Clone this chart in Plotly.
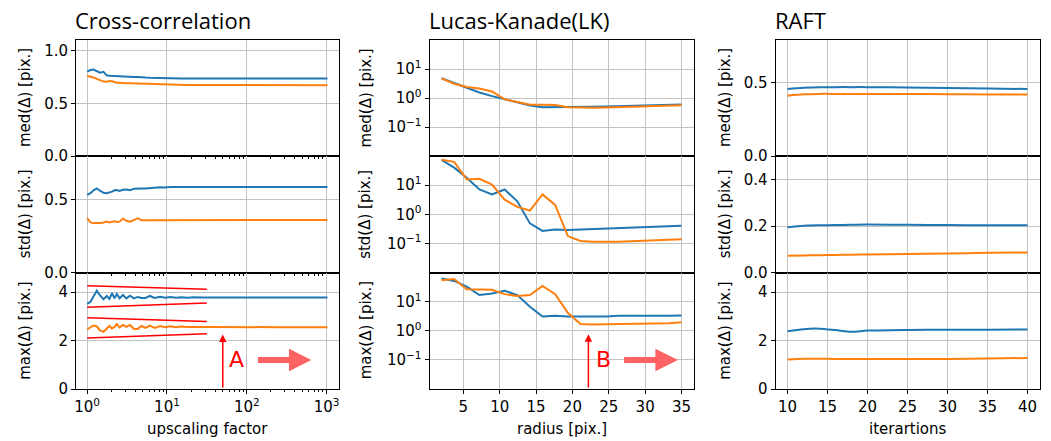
import math
import plotly.graph_objects as go
from plotly.subplots import make_subplots

BLUE = "#1f77b4"
ORANGE = "#ff7f0e"
RED = "#ff0000"
LIGHT_RED = "#ff6262"

# ---------------- Cross-correlation: error statistics vs upscaling factor
UPSCALE = [1.0, 1.1, 1.2, 1.32, 1.45, 1.6, 1.76, 1.9, 2.05, 2.2, 2.35, 2.55,
           2.8, 3.1, 3.45, 3.85, 4.3, 4.8, 5.4, 6.1, 7.0, 8.2, 9.5, 11, 13,
           15, 18, 22, 28, 40, 64, 128, 256, 512, 1024]
CC_MED_BLUE = [0.800, 0.815, 0.820, 0.805, 0.790, 0.798, 0.765, 0.762, 0.760,
               0.758, 0.760, 0.755, 0.752, 0.750, 0.753, 0.748, 0.750, 0.745,
               0.744, 0.742, 0.740, 0.738, 0.737, 0.736, 0.736, 0.735, 0.735,
               0.735, 0.735, 0.735, 0.734, 0.734, 0.734, 0.734, 0.734]
CC_MED_ORANGE = [0.759, 0.755, 0.745, 0.732, 0.720, 0.706, 0.704, 0.712, 0.708,
                 0.698, 0.695, 0.694, 0.690, 0.690, 0.689, 0.688, 0.686, 0.684,
                 0.680, 0.681, 0.678, 0.677, 0.676, 0.676, 0.675, 0.675, 0.674,
                 0.674, 0.674, 0.673, 0.673, 0.672, 0.672, 0.672, 0.672]
CC_STD_BLUE = [0.534, 0.545, 0.565, 0.578, 0.562, 0.548, 0.545, 0.550, 0.556,
               0.565, 0.566, 0.561, 0.568, 0.570, 0.566, 0.575, 0.574, 0.578,
               0.578, 0.582, 0.583, 0.586, 0.584, 0.588, 0.587, 0.588, 0.588,
               0.588, 0.588, 0.588, 0.587, 0.587, 0.587, 0.587, 0.587]
CC_STD_ORANGE = [0.375, 0.345, 0.340, 0.338, 0.340, 0.344, 0.350, 0.345, 0.348,
                 0.352, 0.348, 0.350, 0.370, 0.356, 0.350, 0.362, 0.372, 0.360,
                 0.360, 0.362, 0.361, 0.363, 0.361, 0.363, 0.362, 0.362, 0.362,
                 0.362, 0.362, 0.362, 0.362, 0.362, 0.362, 0.362, 0.362]
CC_MAX_BLUE = [3.51, 3.60, 3.82, 4.06, 3.86, 3.70, 3.84, 3.72, 3.96, 3.74, 3.92,
               3.74, 3.88, 3.74, 3.85, 3.74, 3.80, 3.76, 3.76, 3.84, 3.76, 3.81,
               3.77, 3.80, 3.77, 3.79, 3.77, 3.79, 3.78, 3.78, 3.78, 3.78, 3.78,
               3.78, 3.78]
CC_MAX_ORANGE = [2.46, 2.54, 2.62, 2.58, 2.42, 2.36, 2.50, 2.60, 2.50, 2.56,
                 2.68, 2.54, 2.64, 2.56, 2.64, 2.48, 2.48, 2.60, 2.52, 2.62,
                 2.52, 2.60, 2.55, 2.59, 2.55, 2.58, 2.56, 2.57, 2.56, 2.56,
                 2.55, 2.55, 2.55, 2.55, 2.55]

# convergence envelopes around the max curves
ENV_X = [1.0, 31.6]
ENV_BLUE_UPPER = [4.26, 4.12]
ENV_BLUE_LOWER = [3.37, 3.55]
ENV_ORANGE_UPPER = [2.94, 2.79]
ENV_ORANGE_LOWER = [2.10, 2.28]

# ---------------- Lucas-Kanade: error statistics vs window radius
RADIUS = [2.0, 3.74, 5.47, 7.21, 8.95, 10.68, 12.42, 14.16, 15.89, 17.63,
          19.37, 21.11, 22.84, 24.58, 26.32, 28.05, 29.79, 31.53, 33.26, 35.0]
LK_MED_BLUE = [4.78, 3.24, 2.24, 1.55, 1.16, 0.92, 0.73, 0.55, 0.48, 0.48,
               0.49, 0.49, 0.50, 0.51, 0.52, 0.53, 0.55, 0.56, 0.58, 0.60]
LK_MED_ORANGE = [4.78, 3.10, 2.40, 2.12, 1.68, 0.90, 0.73, 0.59, 0.58, 0.57,
                 0.48, 0.46, 0.46, 0.47, 0.48, 0.49, 0.50, 0.52, 0.54, 0.56]
LK_STD_BLUE = [74, 40, 18, 7.1, 4.8, 7.1, 2.8, 0.49, 0.27, 0.30, 0.29, 0.30,
               0.31, 0.32, 0.35, 0.35, 0.37, 0.38, 0.39, 0.41]
LK_STD_ORANGE = [74, 63, 15.8, 16.5, 10.5, 3.2, 1.8, 1.35, 4.8, 2.1, 0.18,
                 0.123, 0.114, 0.112, 0.114, 0.12, 0.125, 0.13, 0.135, 0.14]
LK_MAX_BLUE = [63, 52, 33, 17, 19.3, 24, 17, 6.7, 3.1, 3.3, 3.1, 3.1, 3.1,
               3.1, 3.3, 3.3, 3.2, 3.2, 3.3, 3.4]
LK_MAX_ORANGE = [55, 61, 27, 26, 26, 18.3, 15.8, 17, 35, 18.3, 4.2, 1.72,
                 1.66, 1.70, 1.72, 1.75, 1.78, 1.80, 1.82, 1.96]

# ---------------- RAFT: error statistics vs number of iterations
ITERS = [10, 12, 14, 16, 18, 20, 25, 30, 35, 40]
RAFT_MED_BLUE = [0.457, 0.464, 0.468, 0.469, 0.469, 0.469, 0.466, 0.463, 0.460, 0.456]
RAFT_MED_ORANGE = [0.411, 0.420, 0.423, 0.423, 0.423, 0.423, 0.422, 0.421, 0.419, 0.419]
RAFT_STD_BLUE = [0.195, 0.201, 0.203, 0.204, 0.205, 0.206, 0.205, 0.204, 0.203, 0.203]
RAFT_STD_ORANGE = [0.073, 0.074, 0.075, 0.076, 0.077, 0.078, 0.080, 0.082, 0.085, 0.087]
RAFT_MAX_BLUE = [2.38, 2.47, 2.49, 2.43, 2.36, 2.41, 2.44, 2.45, 2.45, 2.46]
RAFT_MAX_ORANGE = [1.22, 1.25, 1.25, 1.24, 1.24, 1.24, 1.24, 1.24, 1.26, 1.28]

# annotation anchors
ARROW_A_X, ARROW_A_TIP = 50, 2.25
LABEL_A_X, LABEL_A_Y = 74, 1.2
FAT_A_FROM, FAT_A_TO, FAT_A_Y = 132, 645, 1.2
ARROW_B_X, ARROW_B_TIP = 22.2, 0.77
LABEL_B_X, LABEL_B_Y = 24.3, 0.1
FAT_B_FROM, FAT_B_TO, FAT_B_Y = 26.9, 34.5, 0.1

TITLES = ["Cross-correlation", "Lucas-Kanade(LK)", "RAFT"]
ROW_LABELS = ["med(Δ) [pix.]", "std(Δ) [pix.]", "max(Δ) [pix.]"]
X_LABELS = ["upscaling factor", "radius [pix.]", "iterartions"]
LOG_TICKVALS = [0.1, 1, 10]
LOG_TICKTEXT = ["10<sup>−1</sup>", "10<sup>0</sup>", "10<sup>1</sup>"]
DECADE_TICKVALS = [1, 10, 100, 1000]
DECADE_TICKTEXT = ["10<sup>0</sup>", "10<sup>1</sup>", "10<sup>2</sup>", "10<sup>3</sup>"]

W, H = 1051, 441
COL_PX = [(76, 339), (429.5, 693.5), (775.5, 1039.5)]
ROW_PX = [(40, 156), (156, 272.7), (272.7, 389)]

TICK_FONT = dict(family="DejaVu Sans", size=15, color="black")

fig = make_subplots(rows=3, cols=3)

series = [
    (UPSCALE, [(CC_MED_BLUE, CC_MED_ORANGE), (CC_STD_BLUE, CC_STD_ORANGE),
               (CC_MAX_BLUE, CC_MAX_ORANGE)], "linear"),
    (RADIUS, [(LK_MED_BLUE, LK_MED_ORANGE), (LK_STD_BLUE, LK_STD_ORANGE),
              (LK_MAX_BLUE, LK_MAX_ORANGE)], "linear"),
    (ITERS, [(RAFT_MED_BLUE, RAFT_MED_ORANGE), (RAFT_STD_BLUE, RAFT_STD_ORANGE),
             (RAFT_MAX_BLUE, RAFT_MAX_ORANGE)], "spline"),
]

for c, (xs, rows, shape) in enumerate(series, start=1):
    for r, (yb, yo) in enumerate(rows, start=1):
        for ys, col in ((yb, BLUE), (yo, ORANGE)):
            fig.add_trace(go.Scatter(x=xs, y=ys, mode="lines",
                                     line=dict(color=col, width=2, shape=shape,
                                               smoothing=0.8 if shape == "spline" else None),
                                     showlegend=False, hoverinfo="skip"),
                          row=r, col=c)

for env in (ENV_BLUE_UPPER, ENV_BLUE_LOWER, ENV_ORANGE_UPPER, ENV_ORANGE_LOWER):
    fig.add_trace(go.Scatter(x=ENV_X, y=env, mode="lines",
                             line=dict(color=RED, width=1.5),
                             showlegend=False, hoverinfo="skip"),
                  row=3, col=1)

axis_common = dict(showline=True, linecolor="black", linewidth=1, mirror=True,
                   ticks="outside", ticklen=4, tickwidth=1, tickcolor="black",
                   showgrid=True, gridcolor="#c4c4c4", gridwidth=1,
                   zeroline=False, tickfont=TICK_FONT, automargin=False)

for c in range(1, 4):
    x0, x1 = COL_PX[c - 1]
    for r in range(1, 4):
        y0, y1 = ROW_PX[r - 1]
        xd = [x0 / W, x1 / W]
        yd = [1 - y1 / H, 1 - y0 / H]
        xa = dict(axis_common, domain=xd, showticklabels=(r == 3))
        if c == 1:
            xa.update(type="log", range=[-0.14, 3.155], tickvals=DECADE_TICKVALS,
                      ticktext=DECADE_TICKTEXT,
                      minor=dict(ticks="outside", ticklen=2, tickcolor="black",
                                 showgrid=False,
                                 tickvals=[m * 10 ** d for d in range(0, 4)
                                           for m in range(2, 10)]))
        elif c == 2:
            xa.update(range=[0.35, 36.65], tickvals=[5, 10, 15, 20, 25, 30, 35])
        else:
            xa.update(range=[8.5, 41.5], tickvals=[10, 15, 20, 25, 30, 35, 40])
        fig.update_xaxes(xa, row=r, col=c)

        ya = dict(axis_common, domain=yd)
        if c == 2:
            ya.update(type="log", range=[-2, 2], tickvals=LOG_TICKVALS,
                      ticktext=LOG_TICKTEXT)
        elif c == 1:
            ya.update([
                dict(range=[0, 1.1], tickvals=[0, 0.5, 1.0], tickformat=".1f"),
                dict(range=[0, 0.8], tickvals=[0, 0.5], tickformat=".1f"),
                dict(range=[0, 4.8], tickvals=[0, 2, 4], tickformat="d"),
            ][r - 1])
        else:
            ya.update([
                dict(range=[0, 0.79], tickvals=[0, 0.5], tickformat=".1f"),
                dict(range=[0, 0.5], tickvals=[0, 0.2, 0.4], tickformat=".1f"),
                dict(range=[0, 4.8], tickvals=[0, 2, 4], tickformat="d"),
            ][r - 1])
        fig.update_yaxes(ya, row=r, col=c)

annotations = []
TITLE_FONT = dict(family="Open Sans", size=22, color="black")
LABEL_FONT = dict(family="DejaVu Sans", size=15, color="black")
YLABEL_X = [25, 365.5, 725]
for c in range(3):
    x0, x1 = COL_PX[c]
    annotations.append(dict(text=TITLES[c], x=(x0 - 3) / W, y=1 - 20 / H,
                            xref="paper", yref="paper", xanchor="left",
                            yanchor="middle", showarrow=False, font=TITLE_FONT))
    annotations.append(dict(text=X_LABELS[c], x=(x0 + x1) / 2 / W, y=1 - 429 / H,
                            xref="paper", yref="paper", xanchor="center",
                            yanchor="middle", showarrow=False, font=LABEL_FONT))
    for r in range(3):
        y0, y1 = ROW_PX[r]
        annotations.append(dict(text=ROW_LABELS[r], x=YLABEL_X[c] / W,
                                y=1 - (y0 + y1) / 2 / H, xref="paper", yref="paper",
                                xanchor="center", yanchor="middle", textangle=-90,
                                showarrow=False, font=LABEL_FONT))

lg = math.log10
# thin marker arrows
annotations.append(dict(x=lg(ARROW_A_X), y=ARROW_A_TIP, ax=lg(ARROW_A_X), ay=0,
                        xref="x7", yref="y7", axref="x7", ayref="y7", text="",
                        showarrow=True, arrowhead=2, arrowsize=1, arrowwidth=1.5,
                        arrowcolor=RED, standoff=0, startstandoff=0))
annotations.append(dict(x=ARROW_B_X, y=lg(ARROW_B_TIP), ax=ARROW_B_X, ay=-2,
                        xref="x8", yref="y8", axref="x8", ayref="y8", text="",
                        showarrow=True, arrowhead=2, arrowsize=1, arrowwidth=1.5,
                        arrowcolor=RED, standoff=0, startstandoff=0))
# letters
annotations.append(dict(x=lg(LABEL_A_X), y=LABEL_A_Y, xref="x7", yref="y7", text="A",
                        showarrow=False, font=dict(family="DejaVu Sans", size=22, color=RED)))
annotations.append(dict(x=LABEL_B_X, y=lg(LABEL_B_Y), xref="x8", yref="y8", text="B",
                        showarrow=False, font=dict(family="DejaVu Sans", size=22, color=RED)))
# wide arrows pointing to larger values
annotations.append(dict(x=lg(FAT_A_TO), y=FAT_A_Y, ax=lg(FAT_A_FROM), ay=FAT_A_Y,
                        xref="x7", yref="y7", axref="x7", ayref="y7", text="",
                        showarrow=True, arrowhead=2, arrowsize=0.75, arrowwidth=6,
                        arrowcolor=LIGHT_RED, standoff=0, startstandoff=0))
annotations.append(dict(x=FAT_B_TO, y=lg(FAT_B_Y), ax=FAT_B_FROM, ay=lg(FAT_B_Y),
                        xref="x8", yref="y8", axref="x8", ayref="y8", text="",
                        showarrow=True, arrowhead=2, arrowsize=0.75, arrowwidth=6,
                        arrowcolor=LIGHT_RED, standoff=0, startstandoff=0))

fig.update_layout(width=W, height=H, margin=dict(l=0, r=0, t=0, b=0),
                  plot_bgcolor="white", paper_bgcolor="white",
                  annotations=annotations, showlegend=False)

fig.write_html("out.html", config={"displayModeBar": False})
